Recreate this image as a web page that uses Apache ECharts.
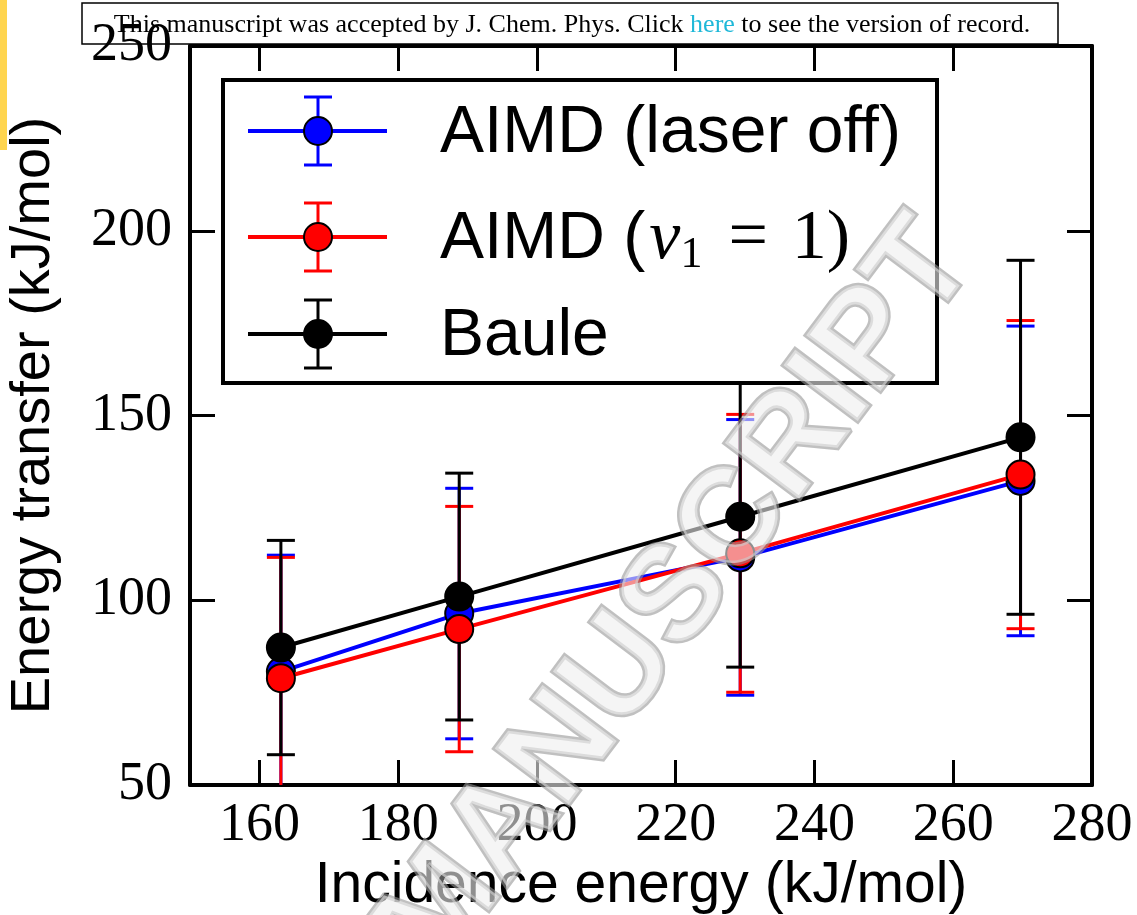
<!DOCTYPE html>
<html><head><meta charset="utf-8">
<script src="https://cdn.jsdelivr.net/npm/echarts@6/dist/echarts.min.js"></script>
<style>html,body{margin:0;padding:0;background:#fff}#c{width:1137px;height:915px}</style>
</head><body><div id="c"></div>
<script>
// ---- data ----
const incidenceEnergy = [163.1, 188.8, 229.3, 269.7];
const laserOff    = [80.7, 96.4, 111.6, 132.3];
const laserOffErr = [31.5, 33.9, 37.3, 41.9];
const nu1         = [78.9, 92.2, 112.7, 134.0];
const nu1Err      = [32.7, 33.2, 37.6, 41.7];
const baule       = [87.2, 101.0, 122.6, 144.1];
const bauleErr    = [29.0, 33.4, 40.7, 47.9];
const xTicks = [160, 180, 200, 220, 240, 260, 280];
const yTicks = [50, 100, 150, 200, 250];
const seriesNames = ['AIMD (laser off)', 'AIMD (nu1 = 1)', 'Baule'];

const SERIF = '"Liberation Serif","DejaVu Serif",serif';
const SANS = '"Liberation Sans",Arial,sans-serif';

const chart = echarts.init(document.getElementById('c'), null, {renderer: 'canvas'});

function errSeries(name, ys, errs, color, z) {
  return {
    type: 'custom', name: name + ' err', z: z, silent: true, animation: false,
    data: incidenceEnergy.map((x, i) => [x, ys[i] - errs[i], ys[i] + errs[i]]),
    encode: {x: 0, y: [1, 2]},
    renderItem: function (params, api) {
      const cs = params.coordSys;
      const x = api.value(0);
      const lo = api.coord([x, api.value(1)]);
      const hi = api.coord([x, api.value(2)]);
      const top = cs.y, bot = cs.y + cs.height;
      const hw = 14;
      const style = {stroke: color, lineWidth: 3};
      const y1 = Math.min(Math.max(hi[1], top), bot);
      const y2 = Math.min(Math.max(lo[1], top), bot);
      const ch = [{type: 'line', shape: {x1: lo[0], y1: y1, x2: lo[0], y2: y2}, style: style}];
      if (lo[1] <= bot) ch.push({type: 'line', shape: {x1: lo[0] - hw, y1: lo[1], x2: lo[0] + hw, y2: lo[1]}, style: style});
      if (hi[1] >= top) ch.push({type: 'line', shape: {x1: hi[0] - hw, y1: hi[1], x2: hi[0] + hw, y2: hi[1]}, style: style});
      return {type: 'group', children: ch};
    }
  };
}
function lineSeries(name, ys, color, z) {
  return {
    type: 'line', name: name, z: z, animation: false, silent: true,
    data: incidenceEnergy.map((x, i) => [x, ys[i]]),
    symbol: 'circle', symbolSize: 28,
    lineStyle: {color: color, width: 4},
    itemStyle: {color: color, borderColor: '#000', borderWidth: 2},
    emphasis: {disabled: true}
  };
}

const axisLineStyle = {show: true, lineStyle: {color: '#000', width: 4}};
const tickStyle = {color: '#000', width: 3};

// ---- legend (drawn as graphic) ----
const LZ = 60;
const legendColors = ['#0000ff', '#ff0000', '#000000'];
const legendRows = [131, 237, 334];
const legendEls = [{type: 'rect', z: LZ, shape: {x: 223, y: 80, width: 714, height: 303},
  style: {fill: '#fff', stroke: '#000', lineWidth: 4}}];
legendRows.forEach((ry, i) => {
  const c = legendColors[i];
  const s = {stroke: c, lineWidth: 3};
  legendEls.push({type: 'line', z: LZ + 1, shape: {x1: 248, y1: ry, x2: 387, y2: ry}, style: {stroke: c, lineWidth: 4}});
  legendEls.push({type: 'line', z: LZ + 1, shape: {x1: 318, y1: ry - 34, x2: 318, y2: ry + 34}, style: s});
  legendEls.push({type: 'line', z: LZ + 1, shape: {x1: 304, y1: ry - 34, x2: 332, y2: ry - 34}, style: s});
  legendEls.push({type: 'line', z: LZ + 1, shape: {x1: 304, y1: ry + 34, x2: 332, y2: ry + 34}, style: s});
  legendEls.push({type: 'circle', z: LZ + 2, shape: {cx: 318, cy: ry, r: 14}, style: {fill: c, stroke: '#000', lineWidth: 2}});
});
legendEls.push({type: 'text', z: LZ + 1, x: 440, y: legendRows[0] + 3, style: {text: seriesNames[0],
  font: '66px ' + SANS, fill: '#000', textVerticalAlign: 'middle'}});
legendEls.push({type: 'text', z: LZ + 1, x: 440, y: legendRows[1] + 3, style: {
  text: '{a|AIMD (}{nu|ν}{sub|1}{eq|=}{b|1)}',
  textVerticalAlign: 'middle', fill: '#000',
  rich: {
    a: {fontFamily: SANS, fontSize: 66, lineHeight: 74, fill: '#000'},
    nu: {fontFamily: SERIF, fontStyle: 'italic', fontSize: 70, lineHeight: 74, fill: '#000', padding: [0, 0, 0, 4]},
    sub: {fontFamily: SERIF, fontSize: 44, lineHeight: 50, verticalAlign: 'bottom', fill: '#000'},
    eq: {fontFamily: SERIF, fontSize: 70, lineHeight: 74, fill: '#000', padding: [0, 24, 0, 26]},
    b: {fontFamily: SERIF, fontSize: 70, lineHeight: 74, fill: '#000'}
  }}});
legendEls.push({type: 'text', z: LZ + 1, x: 440, y: legendRows[2] + 3, style: {text: seriesNames[2],
  font: '66px ' + SANS, fill: '#000', textVerticalAlign: 'middle'}});

const option = {
  backgroundColor: '#fff',
  animation: false,
  grid: {left: 190, top: 46, right: 45, bottom: 130, containLabel: false, outerBoundsMode: 'none'},
  xAxis: [{
    type: 'value', min: 150, max: 280, position: 'bottom',
    axisLine: axisLineStyle,
    axisTick: {show: true, inside: true, length: 25, lineStyle: tickStyle, customValues: xTicks},
    axisLabel: {customValues: xTicks, fontFamily: SERIF, fontSize: 54, color: '#000', margin: 14},
    splitLine: {show: false},
    name: 'Incidence energy (kJ/mol)', nameLocation: 'middle', nameGap: 68,
    nameTextStyle: {fontFamily: SANS, fontSize: 57, color: '#000'}
  }, {
    type: 'value', min: 150, max: 280, position: 'top',
    axisLine: axisLineStyle,
    axisTick: {show: true, inside: true, length: 25, lineStyle: tickStyle, customValues: xTicks},
    axisLabel: {show: false}, splitLine: {show: false}
  }],
  yAxis: [{
    type: 'value', min: 50, max: 250, interval: 50, position: 'left',
    axisLine: axisLineStyle,
    axisTick: {show: true, inside: true, length: 25, lineStyle: tickStyle},
    axisLabel: {fontFamily: SERIF, fontSize: 54, color: '#000', margin: 18,
      formatter: v => (yTicks.indexOf(v) >= 0 ? String(v) : '')},
    splitLine: {show: false},
    name: 'Energy transfer (kJ/mol)', nameLocation: 'middle', nameGap: 128, nameRotate: 90,
    nameTextStyle: {fontFamily: SANS, fontSize: 56, color: '#000'}
  }, {
    type: 'value', min: 50, max: 250, interval: 50, position: 'right',
    axisLine: axisLineStyle,
    axisTick: {show: true, inside: true, length: 25, lineStyle: tickStyle},
    axisLabel: {show: false}, splitLine: {show: false}
  }],
  series: [
    errSeries(seriesNames[0], laserOff, laserOffErr, '#0000ff', 3),
    errSeries(seriesNames[1], nu1, nu1Err, '#ff0000', 3),
    errSeries(seriesNames[2], baule, bauleErr, '#000000', 3),
    lineSeries(seriesNames[0], laserOff, '#0000ff', 4),
    lineSeries(seriesNames[1], nu1, '#ff0000', 5),
    lineSeries(seriesNames[2], baule, '#000000', 6)
  ],
  graphic: {elements: [
    {type: 'rect', z: -10, shape: {x: 0, y: 0, width: 7, height: 150}, style: {fill: '#ffd54f'}},
    {type: 'rect', z: -10, shape: {x: 82, y: 3, width: 976, height: 41}, style: {fill: '#fff', stroke: '#000', lineWidth: 1.5}},
    {type: 'text', z: -9, x: 572, y: 25, style: {
      text: 'This manuscript was accepted by J. Chem. Phys. Click {h|here} to see the version of record.',
      font: '26px ' + SERIF, fill: '#000', textAlign: 'center', textVerticalAlign: 'middle',
      rich: {h: {fill: '#1fb8d8', fontFamily: SERIF, fontSize: 26}}}},
    {type: 'group', children: legendEls},
    {type: 'text', z: 100, x: 949, y: 238, rotation: 53 * Math.PI / 180, style: {
      text: 'ACCEPTED MANUSCRIPT', font: 'bold 135px ' + SANS,
      fill: 'rgba(238,238,238,0.6)', stroke: 'rgba(150,150,150,0.6)', lineWidth: 5,
      textAlign: 'right', textVerticalAlign: 'middle'}}
  ]}
};
chart.setOption(option);
</script>
</body></html>
